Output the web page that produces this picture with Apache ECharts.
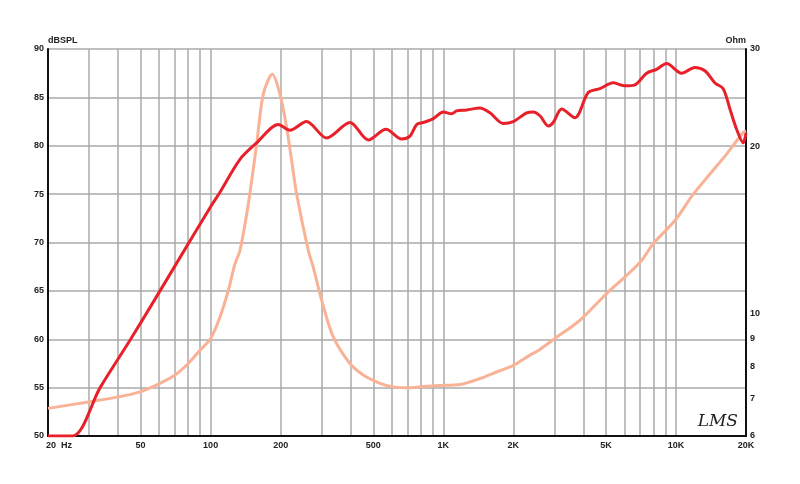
<!DOCTYPE html>
<html>
<head>
<meta charset="utf-8">
<script src="https://cdn.jsdelivr.net/npm/echarts@6/dist/echarts.min.js"></script>
<style>html,body{margin:0;padding:0;background:#fff}#c{width:800px;height:484px}</style>
</head>
<body>
<div id="c"></div>
<script>
// SPL frequency response [Hz, dB]
const splFreq = [20, 25.5, 33.5, 45.3, 60.6, 72.4, 100, 109.7, 133.7, 157.7, 195.4, 219.3, 258.2, 315.3, 397.1, 476, 567.1, 662.3, 719.2, 768.5, 820.3, 905.6, 1000, 1086, 1141, 1260, 1437, 1587, 1810, 1998, 2282, 2435, 2603, 2825, 2968, 3226, 3680, 4196, 4712, 5376, 6034, 6661, 7481, 8256, 9117, 10574, 12064, 13315, 14701, 15961, 17058, 18226, 19450, 20000];
const splDb = [50, 50, 55.0, 60.0, 65.0, 68.1, 73.7, 75.2, 78.6, 80.3, 82.2, 81.6, 82.5, 80.8, 82.4, 80.6, 81.7, 80.7, 81.0, 82.2, 82.4, 82.8, 83.5, 83.3, 83.6, 83.7, 83.9, 83.4, 82.3, 82.5, 83.4, 83.5, 83.1, 82.05, 82.4, 83.8, 82.9, 85.5, 85.9, 86.5, 86.2, 86.3, 87.5, 87.9, 88.5, 87.5, 88.1, 87.75, 86.5, 85.9, 83.8, 81.7, 80.3, 81.3];
// Impedance [Hz, Ohm]
const impFreq = [20, 30.3, 40.1, 49.7, 60.6, 70.3, 80.1, 90, 100, 109.7, 119.1, 127.3, 133.7, 145.2, 157.7, 168.4, 184.1, 198.6, 212.3, 223, 234.3, 262.9, 276.1, 300.1, 336.6, 397, 452.9, 534.3, 609.5, 696, 848.2, 1034, 1179, 1437, 1695, 1998, 2357, 2603, 3018, 3867, 5035, 6138, 7116, 7982, 9893, 11868, 13996, 16510, 19450, 20000];
const impOhm = [6.73, 6.92, 7.06, 7.21, 7.47, 7.73, 8.11, 8.57, 9.0, 9.84, 10.99, 12.28, 12.98, 15.75, 20.2, 24.86, 27.0, 24.86, 21.6, 18.85, 16.4, 12.98, 12.11, 10.55, 9.06, 8.11, 7.73, 7.47, 7.36, 7.33, 7.38, 7.41, 7.43, 7.62, 7.83, 8.05, 8.40, 8.60, 9.0, 9.71, 10.85, 11.70, 12.45, 13.35, 14.70, 16.4, 17.84, 19.38, 21.2, 21.35];
// Axis ticks
const xGridValues = [20, 30, 40, 50, 60, 70, 80, 90, 100, 200, 300, 400, 500, 600, 700, 800, 900, 1000, 2000, 3000, 4000, 5000, 6000, 7000, 8000, 9000, 10000, 20000];
const xTickValues = [20, 50, 100, 200, 500, 1000, 2000, 5000, 10000, 20000];
const xTickLabels = ['20  Hz', '50', '100', '200', '500', '1K', '2K', '5K', '10K', '20K'];
const ohmTickValues = [6, 7, 8, 9, 10, 20, 30];

const font = {fontFamily: 'Liberation Sans, Arial, sans-serif', fontWeight: 'bold', fontSize: 9, color: '#222'};
const chart = echarts.init(document.getElementById('c'));
chart.setOption({
  backgroundColor: '#fff',
  animation: false,
  grid: {left: 48, right: 54, top: 49, bottom: 48},
  xAxis: {
    type: 'log', logBase: 10, min: 20, max: 20000,
    axisLine: {show: true, lineStyle: {color: '#111', width: 2}},
    axisTick: {show: false, customValues: xGridValues},
    splitLine: {show: true, lineStyle: {color: '#aaa', width: 1.5}},
    minorSplitLine: {show: false},
    axisLabel: {
      customValues: xTickValues, margin: 5, ...font,
      formatter: v => {
        const i = xTickValues.findIndex(t => Math.abs(t - v) < 1e-6 * t);
        const s = i >= 0 ? xTickLabels[i] : '';
        return i === 0 ? '{l|' + s + '}' : s;
      },
      rich: {l: {...font, padding: [0, 0, 0, 22]}}
    }
  },
  yAxis: [{
    type: 'value', min: 50, max: 90, interval: 5,
    name: 'dBSPL', nameLocation: 'end', nameGap: 3,
    nameTextStyle: {...font, align: 'left'},
    axisLine: {show: true, lineStyle: {color: '#111', width: 2}},
    axisTick: {show: false},
    splitLine: {show: true, lineStyle: {color: '#aaa', width: 1.5}},
    axisLabel: {margin: 4, ...font}
  }, {
    type: 'log', logBase: 10, min: 6, max: 30, position: 'right',
    name: 'Ohm', nameLocation: 'end', nameGap: 3,
    nameTextStyle: {...font, align: 'right'},
    axisLine: {show: true, lineStyle: {color: '#111', width: 2}},
    axisTick: {show: false, customValues: ohmTickValues},
    splitLine: {show: false},
    axisLabel: {customValues: ohmTickValues, margin: 4, ...font}
  }],
  graphic: [{
    type: 'text', right: 62, bottom: 54,
    style: {text: 'LMS', font: 'italic 17px "DejaVu Serif", serif', fill: '#222'}
  }],
  series: [{
    type: 'line', name: 'Impedance', yAxisIndex: 1,
    data: impFreq.map((f, i) => [f, impOhm[i]]),
    showSymbol: false, smooth: 0.3, z: 2,
    lineStyle: {color: '#f9b296', width: 3}
  }, {
    type: 'line', name: 'SPL', yAxisIndex: 0,
    data: splFreq.map((f, i) => [f, splDb[i]]),
    showSymbol: false, smooth: 0.3, z: 3,
    lineStyle: {color: '#e8202a', width: 3}
  }]
});
</script>
</body>
</html>
